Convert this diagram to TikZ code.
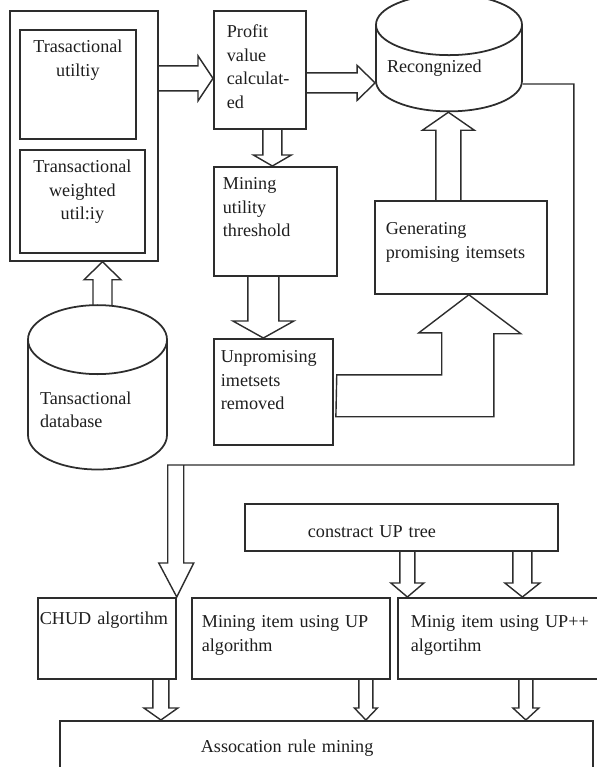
\documentclass[tikz,border=0pt]{standalone}
\usepackage{fontspec}
\setmainfont{Liberation Serif}
\usepackage{tikz}
\usetikzlibrary{shapes.geometric,calc,positioning}
\definecolor{dgline}{RGB}{45,45,45}
\definecolor{dgtext}{RGB}{30,30,30}
\tikzstyle{fatline} = [draw=dgline, line width=1.2pt, line join=miter]
\tikzstyle{frame} = [rectangle, draw=dgline, line width=1.5pt, inner sep=0pt, anchor=north west]
\tikzstyle{stagebox} = [rectangle, draw=dgline, line width=1.5pt, inner ysep=0pt, anchor=north west, align=left, text=dgtext, font=\fontsize{15.5}{20}\selectfont]
\tikzstyle{storecyl} = [cylinder, shape border rotate=90, draw=dgline, line width=1.5pt, inner sep=0pt, align=left, text=dgtext, font=\fontsize{15.5}{20}\selectfont]
% hollow block arrow: from, to, shaft half width, head half width, head length (px)
\newcommand{\fatarrow}[5]{%
  \coordinate (hb) at ($(#2)!#5*0.3mm!(#1)$);
  \draw[fatline] ($(#1)!#3*0.3mm!90:(#2)$) -- ($(hb)!#3*0.3mm!-90:(#1)$) -- ($(hb)!#4*0.3mm!-90:(#1)$) -- (#2) -- ($(hb)!#4*0.3mm!90:(#1)$) -- ($(hb)!#3*0.3mm!90:(#1)$) -- ($(#1)!#3*0.3mm!-90:(#2)$);}

\begin{document}
\begin{tikzpicture}[x=0.3mm, y=-0.3mm]
\useasboundingbox (0,0) rectangle (597,767);
\clip (0,0) rectangle (597,767);

% Utility frame
\node (tuframe) [frame, minimum width=44.4mm, minimum height=75mm] at (9,10) {};
\node (tu) [stagebox, align=center, inner xsep=1.2mm, text width=32.4mm, text height=6.9mm, text depth=25.8mm] at (19,29) {Trasactional\\utiltiy};
\node (twu) [stagebox, align=center, inner xsep=1.2mm, text width=35.1mm, text height=6.9mm, text depth=24mm] at (19,149) {Transactional\\weighted\\util:iy};

% Steps
\node (profit) [stagebox, inner xsep=3.9mm, text width=19.8mm, text height=8.1mm, text depth=27.3mm] at (213,10) {Profit\\value\\calculat-\\ed};
\node (mining) [stagebox, inner xsep=2.7mm, text width=31.5mm, text height=6.9mm, text depth=25.8mm] at (213,166) {Mining\\utility\\threshold};
\node (unpromising) [stagebox, inner xsep=2.1mm, text width=31.5mm, text height=7.2mm, text depth=24.6mm] at (213,338) {Unpromising\\imetsets\\removed};
\node (generating) [stagebox, inner xsep=3.3mm, text width=45mm, text height=10.2mm, text depth=17.7mm] at (374,200) {Generating\\promising itemsets};

% Stores
\node (recog) [storecyl, minimum width=43.8mm, minimum height=35.1mm, aspect=0.49, text width=37.2mm] at (449,68.5) {Recongnized};
\node (database) [storecyl, minimum width=41.7mm, minimum height=40.2mm, aspect=0.6, text width=34.5mm, text height=8.7mm, text depth=9.3mm] at (97.5,405) {Tansactional\\database};

% Algorithms
\node (construct) [stagebox, inner xsep=18.9mm, text width=56.1mm, text height=10.2mm, text depth=3.9mm] at (244,503) {constract UP tree};
\node (chud) [stagebox, inner xsep=0.6mm, text width=40.2mm, text height=8.1mm, text depth=16.2mm] at (37,597) {CHUD algortihm};
\node (minup) [stagebox, inner xsep=3mm, text width=53.4mm, text height=9mm, text depth=15.3mm] at (191,597) {Mining item using UP\\algorithm};
\node (minupp) [stagebox, inner xsep=3.9mm, text width=61.2mm, text height=9mm, text depth=15.3mm] at (397,597) {Minig item using UP++\\algortihm};
\node (assoc) [stagebox, inner xsep=42.3mm, text width=75.3mm, text height=9.6mm, text depth=8.4mm] at (59,720) {Assocation rule mining};

% Arrows
\coordinate (a1) at ($(tuframe.east)+(0,-57.5)$);
\fatarrow{a1}{a1 -| profit.west}{12.5}{22.5}{15}
\coordinate (a2) at ($(profit.east)+(0,13)$);
\fatarrow{a2}{a2 -| recog.west}{10}{17.5}{18}
\coordinate (a3) at ($(profit.south)+(12.5,0)$);
\fatarrow{a3}{a3 |- mining.north}{9.5}{19}{11}
\coordinate (a4) at ($(mining.south)+(-12,0)$);
\fatarrow{a4}{a4 |- unpromising.north}{15.5}{30.5}{17}
\coordinate (a5) at ($(database.north)+(5,1)$);
\fatarrow{a5}{a5 |- tuframe.south}{9.5}{18.5}{18}
\coordinate (a6) at ($(generating.north)+(-12.5,0)$);
\fatarrow{a6}{a6 |- recog.south}{12.5}{26}{18}
\coordinate (a7) at ($(construct.south)+(6,0)$);
\fatarrow{a7}{a7 |- minupp.north}{7.5}{16.5}{14}
\coordinate (a8) at ($(construct.south)+(121,0)$);
\fatarrow{a8}{a8 |- minupp.north}{9.5}{17.5}{14}
\coordinate (a9) at ($(chud.south)+(54,0)$);
\fatarrow{a9}{a9 |- assoc.north}{8}{17}{12}
\coordinate (a10) at ($(minup.south)+(75,0)$);
\fatarrow{a10}{a10 |- assoc.north}{7}{11.5}{12}
\coordinate (a11) at ($(minupp.south)+(13,0)$);
\fatarrow{a11}{a11 |- assoc.north}{7}{13}{12}

% Bent arrows
\draw[fatline] ($(unpromising.east)+(3,-17)$) -- ++(105,0) -- ++(0,-42) -- ++(-23,0) -- ($(generating.south)+(8,0)$) -- ++(52,39) -- ++(-27,0) -- ++(0,83) -- ++(-158,0) -- cycle;
\draw[fatline] ($(recog.east)+(0,15.5)$) -- ++(51,0) |- ($(chud.north east)+(-9,-132)$) -- ++(0,98) -- ++(-9,0) -- (chud.north east) -- ++(17,-34) -- ++(-10,0) -- ++(0,-98);
\end{tikzpicture}
\end{document}
